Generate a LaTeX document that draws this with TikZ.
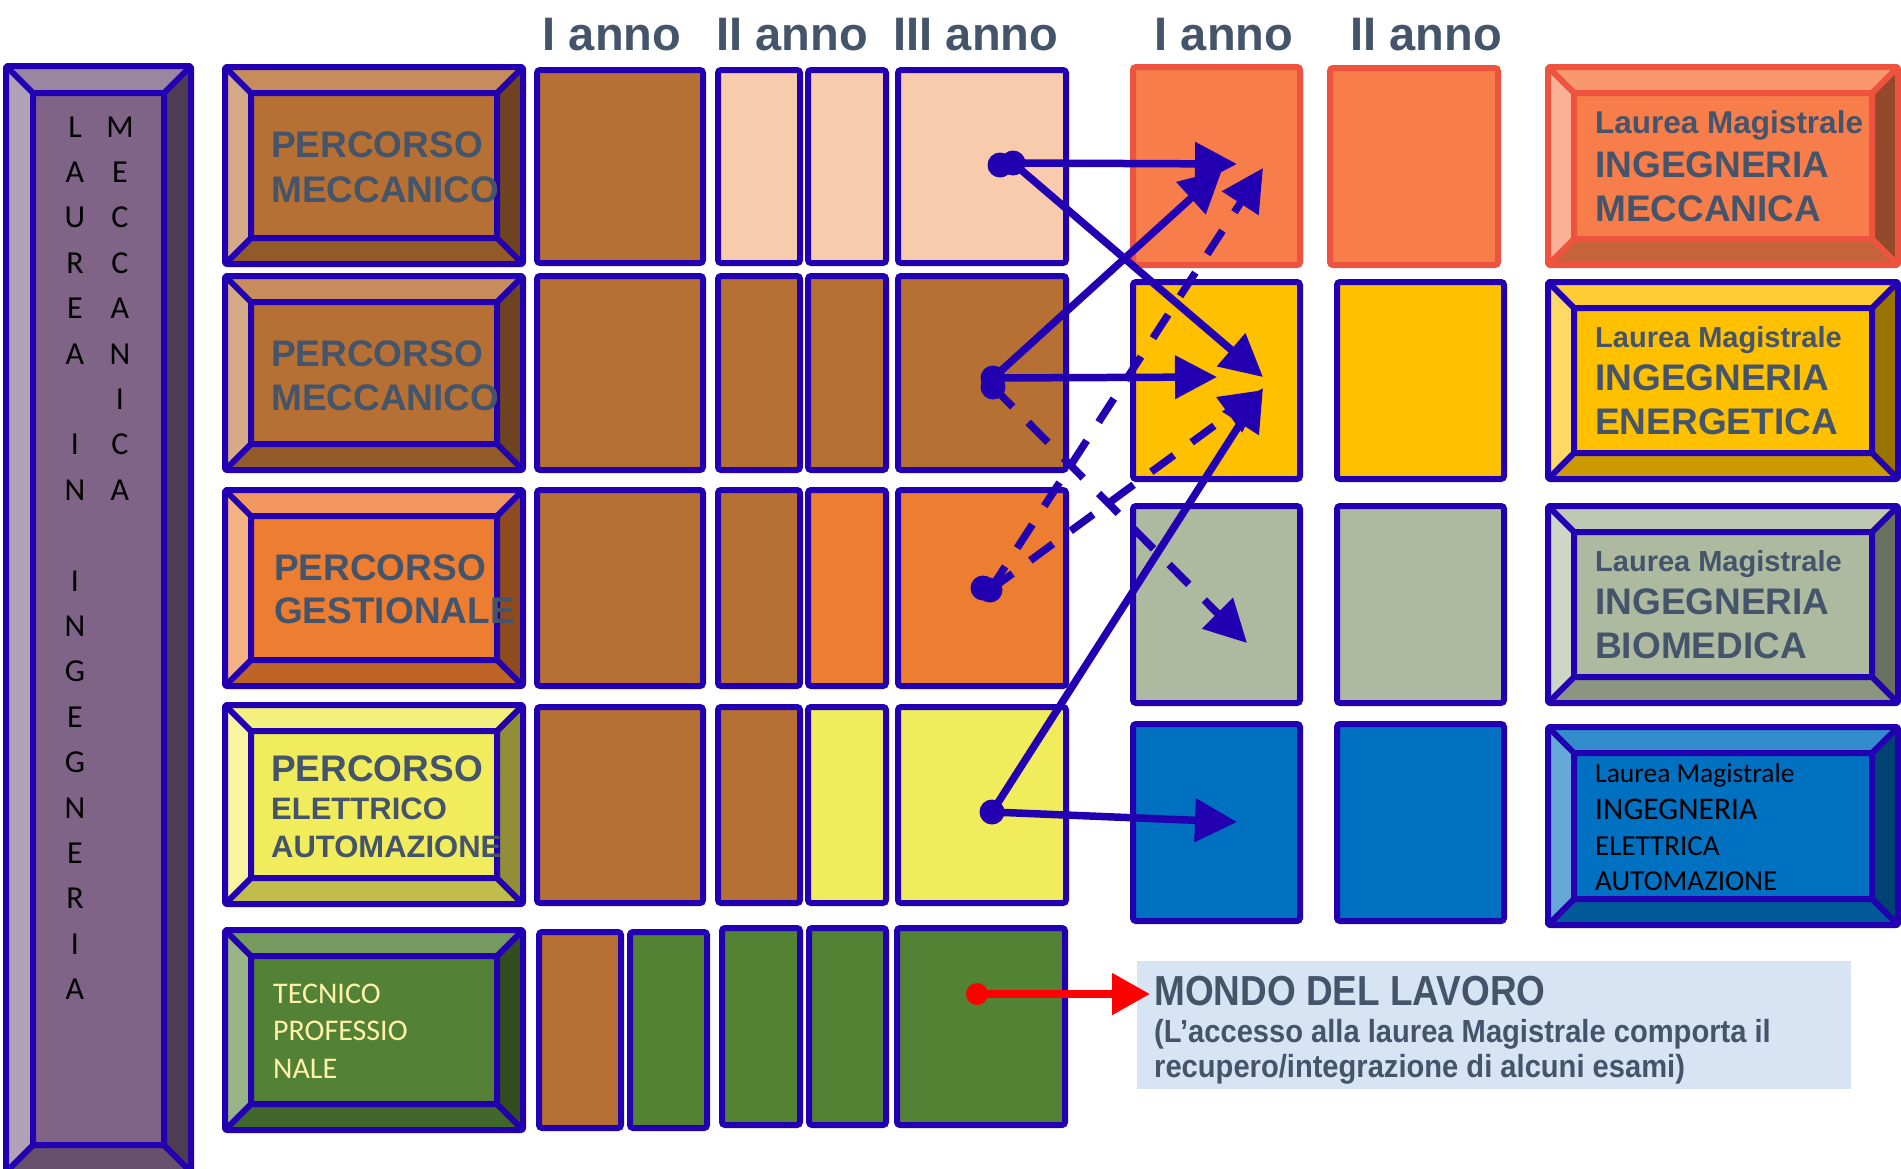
\documentclass[tikz,border=0pt]{standalone}
\usepackage{fontspec}
\setmainfont{Liberation Sans}
\newfontfamily\calib{Carlito}
\newfontfamily\narrowf[FakeStretch=0.88]{Liberation Sans}
\newfontfamily\narrowg[FakeStretch=0.91]{Liberation Sans}
\usetikzlibrary{arrows.meta}

% palette
\definecolor{bdr}{HTML}{2200B2}
\definecolor{slate}{HTML}{44546A}
\definecolor{brown}{HTML}{B77033}
\definecolor{peach}{HTML}{F8CBAD}
\definecolor{orng}{HTML}{ED7D31}
\definecolor{yell}{HTML}{F1EC5C}
\definecolor{grn}{HTML}{548235}
\definecolor{magA}{HTML}{F77D4A}
\definecolor{magAbd}{HTML}{EE5340}
\definecolor{magB}{HTML}{FFC000}
\definecolor{magC}{HTML}{AEBAA0}
\definecolor{magD}{HTML}{0070C0}
\definecolor{mondobg}{HTML}{D7E4F3}
\definecolor{tecn}{HTML}{FFF3AA}
% bevel shades: face / top / left / bottom / right
\definecolor{pbface}{HTML}{B77033}\definecolor{pbtop}{HTML}{C68C5C}\definecolor{pbleft}{HTML}{D5AA86}\definecolor{pbbot}{HTML}{935A29}\definecolor{pbright}{HTML}{6E431F}
\definecolor{poface}{HTML}{ED7D31}\definecolor{potop}{HTML}{F1975F}\definecolor{poleft}{HTML}{F4B183}\definecolor{pobot}{HTML}{BE6427}\definecolor{poright}{HTML}{8E4B1D}
\definecolor{pyface}{HTML}{F1EC5C}\definecolor{pytop}{HTML}{F4F07D}\definecolor{pyleft}{HTML}{F8F49F}\definecolor{pybot}{HTML}{C1BD4A}\definecolor{pyright}{HTML}{918E37}
\definecolor{pgface}{HTML}{538135}\definecolor{pgtop}{HTML}{769A5E}\definecolor{pgleft}{HTML}{98B386}\definecolor{pgbot}{HTML}{42672A}\definecolor{pgright}{HTML}{324D20}
\definecolor{lvface}{HTML}{806488}\definecolor{lvtop}{HTML}{9A86A0}\definecolor{lvleft}{HTML}{B2A2B8}\definecolor{lvbot}{HTML}{66506D}\definecolor{lvright}{HTML}{4D3C52}
\definecolor{maface}{HTML}{F77D4A}\definecolor{matop}{HTML}{F9976E}\definecolor{maleft}{HTML}{FAB196}\definecolor{mabot}{HTML}{C5643B}\definecolor{maright}{HTML}{94492A}
\definecolor{mbface}{HTML}{FFC000}\definecolor{mbtop}{HTML}{FFCD33}\definecolor{mbleft}{HTML}{FFD966}\definecolor{mbbot}{HTML}{CC9A00}\definecolor{mbright}{HTML}{997300}
\definecolor{mcface}{HTML}{AEBAA0}\definecolor{mctop}{HTML}{BEC8B3}\definecolor{mcleft}{HTML}{CED6C6}\definecolor{mcbot}{HTML}{8B9580}\definecolor{mcright}{HTML}{687060}
\definecolor{mdface}{HTML}{0070C0}\definecolor{mdtop}{HTML}{338DCD}\definecolor{mdleft}{HTML}{66A9D9}\definecolor{mdbot}{HTML}{005A9A}\definecolor{mdright}{HTML}{004373}

\newcommand\fsz[1]{\fontsize{#1}{#1}\selectfont}

% bevelled panel: x1 y1 x2 y2 inset shade-prefix border-colour
\newcommand\bevbox[7]{%
  \pgfmathsetmacro\bvxa{#1+#5}\pgfmathsetmacro\bvya{#2+#5}%
  \pgfmathsetmacro\bvxb{#3-#5}\pgfmathsetmacro\bvyb{#4-#5}%
  \fill[#6face] (\bvxa,\bvya) rectangle (\bvxb,\bvyb);
  \fill[#6top] (#1,#2) -- (#3,#2) -- (\bvxb,\bvya) -- (\bvxa,\bvya) -- cycle;
  \fill[#6left] (#1,#2) -- (\bvxa,\bvya) -- (\bvxa,\bvyb) -- (#1,#4) -- cycle;
  \fill[#6bot] (#1,#4) -- (\bvxa,\bvyb) -- (\bvxb,\bvyb) -- (#3,#4) -- cycle;
  \fill[#6right] (#3,#2) -- (#3,#4) -- (\bvxb,\bvyb) -- (\bvxb,\bvya) -- cycle;
  \draw[#7, line width=6pt, line join=round, rounded corners=2pt] (#1,#2) rectangle (#3,#4);
  \draw[#7, line width=6pt, line join=round] (\bvxa,\bvya) rectangle (\bvxb,\bvyb)
    (#1,#2) -- (\bvxa,\bvya) (#3,#2) -- (\bvxb,\bvya)
    (#1,#4) -- (\bvxa,\bvyb) (#3,#4) -- (\bvxb,\bvyb);
}
% plain year cell: x1 y1 x2 y2 fill border
\newcommand\ybox[6]{%
  \draw[fill=#5, draw=#6, line width=6pt, rounded corners=3pt] (#1,#2) rectangle (#3,#4);
}

\begin{document}
\begin{tikzpicture}[x=1pt,y=-1pt,
  hdr/.style={anchor=base, text=slate, font=\bfseries\fsz{47}, inner sep=0pt},
  ptxt/.style={anchor=base west, text=slate, font=\bfseries\fsz{37}, inner sep=0pt},
  ptxs/.style={ptxt, font=\bfseries\fsz{31}},
  ttxt/.style={anchor=base west, text=tecn, font=\calib\fsz{30}, inner sep=0pt},
  mtxl/.style={anchor=base west, text=slate, font=\bfseries\fsz{#1}, inner sep=0pt},
  mtxc/.style={anchor=base west, text=black, font=\calib\fsz{#1}, inner sep=0pt},
  lcol/.style={anchor=base, text=black, font=\calib\fsz{32}, inner sep=0pt},
  flow/.style={draw=bdr, line width=7.5pt, -{Triangle[length=42pt,width=42pt]}},
  flowd/.style={flow, dash pattern=on 28pt off 22pt},
  bdot/.style={circle, fill=bdr, inner sep=0pt, minimum size=25pt},
  rdot/.style={circle, fill=red, inner sep=0pt, minimum size=22pt}]
\useasboundingbox (0,0) rectangle (1901,1168);

% ---- tall side panel ----
\bevbox{6}{66}{191}{1172}{27}{lv}{bdr}
\foreach \ch [count=\i from 0] in {L,A,U,R,E,A,{},I,N,{},I,N,G,E,G,N,E,R,I,A}
  \node[lcol] (la\i) at (75,{137+45.4*\i}) {\ch};
\foreach \ch [count=\i from 0] in {M,E,C,C,A,N,I,C,A}
  \node[lcol] (lb\i) at (120,{137+45.4*\i}) {\ch};

% ---- column headers ----
\node[hdr] (h1) at (612,50) {I anno};
\node[hdr] (h2) at (792,50) {II anno};
\node[hdr] (h3) at (976,50) {III anno};
\node[hdr] (h4) at (1224,50) {I anno};
\node[hdr] (h5) at (1426,50) {II anno};

% ---- bachelor tracks ----
\bevbox{225}{67}{523}{264}{26}{pb}{bdr}
\bevbox{225}{276}{523}{470}{26}{pb}{bdr}
\bevbox{225}{490}{523}{686}{26}{po}{bdr}
\bevbox{225}{705}{523}{904}{26}{py}{bdr}
\bevbox{225}{930}{523}{1130}{26}{pg}{bdr}

\node[ptxt] (p1a) at (271,157) {PERCORSO};
\node[ptxt] (p1b) at (271,202) {MECCANICO};
\node[ptxt] (p2a) at (271,366) {PERCORSO};
\node[ptxt] (p2b) at (271,410) {MECCANICO};
\node[ptxt] (p3a) at (274,580) {PERCORSO};
\node[ptxt] (p3b) at (274,623) {GESTIONALE};
\node[ptxt] (p4a) at (271,781) {PERCORSO};
\node[ptxs] (p4b) at (271,819) {ELETTRICO};
\node[ptxs] (p4c) at (271,857) {AUTOMAZIONE};
\node[ttxt] (p5a) at (273,1003) {TECNICO};
\node[ttxt] (p5b) at (273,1040) {PROFESSIO};
\node[ttxt] (p5c) at (273,1078) {NALE};

% ---- three-year grid ----
\ybox{537}{70}{703}{263}{brown}{bdr}
\ybox{718}{70}{800}{263}{peach}{bdr}
\ybox{808}{70}{886}{263}{peach}{bdr}
\ybox{898}{70}{1066}{263}{peach}{bdr}

\ybox{537}{276}{703}{470}{brown}{bdr}
\ybox{718}{276}{800}{470}{brown}{bdr}
\ybox{808}{276}{886}{470}{brown}{bdr}
\ybox{898}{276}{1066}{470}{brown}{bdr}

\ybox{537}{490}{703}{686}{brown}{bdr}
\ybox{718}{490}{800}{686}{brown}{bdr}
\ybox{808}{490}{886}{686}{orng}{bdr}
\ybox{898}{490}{1066}{686}{orng}{bdr}

\ybox{537}{707}{703}{903}{brown}{bdr}
\ybox{718}{707}{800}{903}{brown}{bdr}
\ybox{808}{707}{886}{903}{yell}{bdr}
\ybox{898}{707}{1066}{903}{yell}{bdr}

\ybox{539}{932}{621}{1128}{brown}{bdr}
\ybox{630}{932}{707}{1128}{grn}{bdr}
\ybox{722}{928}{800}{1125}{grn}{bdr}
\ybox{809}{928}{886}{1125}{grn}{bdr}
\ybox{897}{928}{1065}{1125}{grn}{bdr}

% ---- master's years ----
\ybox{1133}{67}{1300}{265}{magA}{magAbd}
\ybox{1330}{68}{1498}{265}{magA}{magAbd}
\ybox{1133}{282}{1300}{479}{magB}{bdr}
\ybox{1337}{282}{1504}{479}{magB}{bdr}
\ybox{1133}{506}{1300}{703}{magC}{bdr}
\ybox{1337}{506}{1504}{703}{magC}{bdr}
\ybox{1133}{724}{1300}{921}{magD}{bdr}
\ybox{1337}{724}{1504}{921}{magD}{bdr}

% ---- master's degrees ----
\bevbox{1548}{67}{1898}{265}{26}{ma}{magAbd}
\bevbox{1548}{282}{1898}{479}{26}{mb}{bdr}
\bevbox{1548}{506}{1898}{703}{26}{mc}{bdr}
\bevbox{1548}{727}{1898}{925}{26}{md}{bdr}

\node[mtxl=31.5] (m1a) at (1595,133) {Laurea Magistrale};
\node[mtxl=37] (m1b) at (1595,177) {INGEGNERIA};
\node[mtxl=37] (m1c) at (1595,221) {MECCANICA};
\node[mtxl=29] (m2a) at (1595,347) {Laurea Magistrale};
\node[mtxl=37] (m2b) at (1595,390) {INGEGNERIA};
\node[mtxl=37] (m2c) at (1595,434) {ENERGETICA};
\node[mtxl=29] (m3a) at (1595,571) {Laurea Magistrale};
\node[mtxl=37] (m3b) at (1595,614) {INGEGNERIA};
\node[mtxl=37] (m3c) at (1595,658) {BIOMEDICA};
\node[mtxc=27.5] (m4a) at (1595,782) {Laurea Magistrale};
\node[mtxc=31.5] (m4b) at (1595,819) {INGEGNERIA};
\node[mtxc=29] (m4c) at (1595,855) {ELETTRICA};
\node[mtxc=29] (m4d) at (1595,890) {AUTOMAZIONE};

% ---- job market note ----
\node[fill=mondobg, minimum width=714pt, minimum height=128pt, anchor=north west, inner sep=0pt] (mondo) at (1137,961) {};
\node[anchor=base west, inner sep=0pt, text=slate, font=\narrowf\bfseries\fsz{42}] (mt1) at (1154,1005) {MONDO DEL LAVORO};
\node[anchor=base west, inner sep=0pt, text=slate, font=\narrowg\bfseries\fsz{32}] (mt2) at (1154,1042) {(L’accesso alla laurea Magistrale comporta il};
\node[anchor=base west, inner sep=0pt, text=slate, font=\narrowg\bfseries\fsz{32}] (mt3) at (1154,1077) {recupero/integrazione di alcuni esami)};

% ---- progression arrows ----
\coordinate (t1) at (1237,164);
\coordinate (t2) at (1263,377);
\coordinate (t3) at (1222,170);
\coordinate (t4) at (1217,377);
\coordinate (t5) at (1247,643);
\coordinate (t6) at (1263,168);
\coordinate (t7) at (1263,390);
\coordinate (t8) at (1263,388);
\coordinate (t9) at (1237,822);

\node[bdot] (d1a) at (1000,165) {};
\node[bdot] (d1b) at (1013,163) {};
\node[bdot] (d2a) at (993,378) {};
\node[bdot] (d2b) at (993,387) {};
\node[bdot] (d3a) at (983,588) {};
\node[bdot] (d3b) at (990,590) {};
\node[bdot] (d4) at (992,812) {};

\draw[flow] (d1b.center) -- (t1);
\draw[flow] (d1b.center) -- (t2);
\draw[flow] (d2a.center) -- (t3);
\draw[flow] (d2a.center) -- (t4);
\draw[flowd] (d2b.center) -- (t5);
\draw[flowd] (d3b.center) -- (t6);
\draw[flowd] (d3b.center) -- (t7);
\draw[flow] (d4.center) -- (t8);
\draw[flow] (d4.center) -- (t9);

\node[rdot] (rd) at (977,994) {};
\coordinate (rt) at (1150,994);
\draw[red, line width=8pt, -{Triangle[length=38pt,width=40pt]}] (rd.center) -- (rt);
\end{tikzpicture}
\end{document}
